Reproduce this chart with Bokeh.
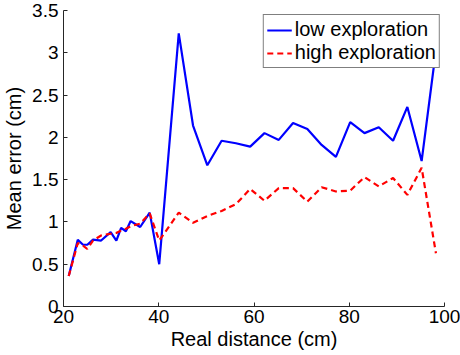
from bokeh.plotting import figure
from bokeh.models import Range1d, Legend, LegendItem, FixedTicker
from bokeh.embed import file_html
from bokeh.resources import INLINE

distance_cm = [21.1, 23.0, 24.1, 25.0, 26.2, 27.9, 29.9, 31.1, 32.1, 33.1, 34.1, 36.1, 38.1, 40.1,
               44.2, 47.2, 50.2, 53.2, 56.2, 59.2, 62.2, 65.2, 68.2, 71.2, 74.2, 77.2, 80.2,
               83.2, 86.2, 89.2, 92.2, 95.2, 98.2]
low_exploration = [0.36, 0.79, 0.73, 0.73, 0.79, 0.78, 0.88, 0.78, 0.93, 0.89, 1.01, 0.94, 1.11, 0.50,
                   3.23, 2.14, 1.67, 1.96, 1.93, 1.89, 2.05, 1.97, 2.17, 2.10, 1.91, 1.77, 2.18,
                   2.05, 2.12, 1.96, 2.36, 1.72, 3.03]
high_exploration = [0.36, 0.75, 0.72, 0.68, 0.78, 0.84, 0.86, 0.87, 0.90, 0.92, 0.95, 0.98, 1.10, 0.78,
                    1.11, 0.99, 1.07, 1.13, 1.21, 1.39, 1.25, 1.40, 1.40, 1.24, 1.41, 1.36, 1.37,
                    1.53, 1.42, 1.52, 1.32, 1.64, 0.63]

x_ticks = [20, 40, 60, 80, 100]
y_ticks = [0, 0.5, 1, 1.5, 2, 2.5, 3, 3.5]
y_tick_labels = ["0", "0.5", "1", "1.5", "2", "2.5", "3", "3.5"]

FONT = "Liberation Sans"

p = figure(width=460, height=355, x_range=Range1d(20, 100), y_range=Range1d(0, 3.5),
           output_backend="svg", toolbar_location=None,
           min_border_left=63, min_border_right=16, min_border_top=10, min_border_bottom=49)
p.outline_line_color = None
p.xgrid.grid_line_color = None
p.ygrid.grid_line_color = None
p.background_fill_color = "white"
p.border_fill_color = "white"

r_low = p.line(distance_cm, low_exploration, line_color="#0000ff", line_width=2.2)
r_high = p.line(distance_cm, high_exploration, line_color="#ff0000", line_width=2.2, line_dash="6 4")

p.xaxis.ticker = FixedTicker(ticks=x_ticks)
p.yaxis.ticker = FixedTicker(ticks=y_ticks)
p.yaxis.major_label_overrides = {t: s for t, s in zip(y_ticks, y_tick_labels)}
p.xaxis.major_label_overrides = {t: str(t) for t in x_ticks}

for ax in (p.xaxis[0], p.yaxis[0]):
    ax.axis_line_color = "#262626"
    ax.axis_line_width = 1
    ax.major_tick_line_color = "#262626"
    ax.major_tick_in = 4
    ax.major_tick_out = 0
    ax.minor_tick_line_color = None
    ax.major_label_text_font = FONT
    ax.major_label_text_font_size = "19px"
    ax.major_label_text_color = "black"
    ax.axis_label_text_font = FONT
    ax.axis_label_text_font_size = "20px"
    ax.axis_label_text_font_style = "normal"
    ax.axis_label_text_color = "black"

p.xaxis.axis_label = "Real distance (cm)"
p.yaxis.axis_label = "Mean error (cm)"
p.xaxis.major_label_standoff = 3
p.yaxis.major_label_standoff = 5
p.xaxis.axis_label_standoff = 2
p.yaxis.axis_label_standoff = 4

legend = Legend(items=[LegendItem(label="low exploration", renderers=[r_low]),
                       LegendItem(label="high exploration", renderers=[r_high])],
                location="top_right")
legend.margin = 4
legend.padding = 3
legend.spacing = 0
legend.glyph_width = 25
legend.glyph_height = 22
legend.label_height = 22
legend.label_standoff = 3
legend.label_text_font = FONT
legend.label_text_font_size = "20px"
legend.label_text_color = "black"
legend.border_line_color = "black"
legend.border_line_width = 1
legend.background_fill_color = "white"
legend.background_fill_alpha = 1
p.add_layout(legend, "center")

open("out.html", "w").write(file_html(p, INLINE))
